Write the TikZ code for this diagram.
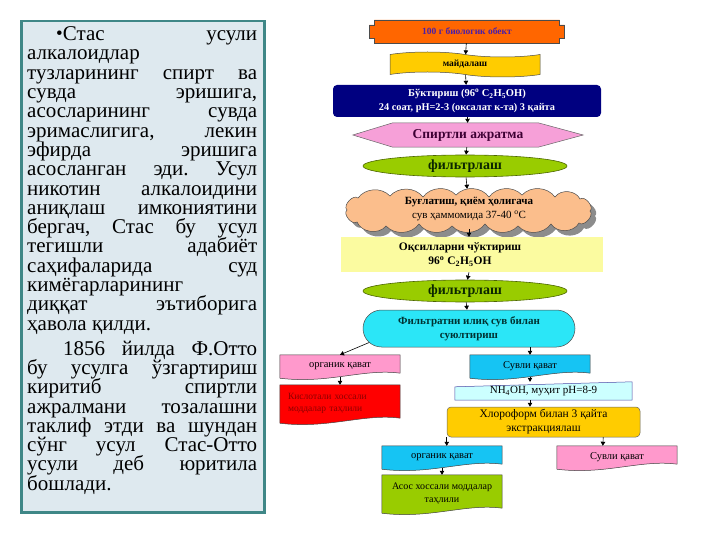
\documentclass[tikz,border=0pt]{standalone}
\usepackage{fontspec}
\setmainfont{Liberation Serif}
\usetikzlibrary{shapes.geometric,shapes.symbols,shapes.misc,shadows,calc,backgrounds,arrows.meta}
\definecolor{orangef}{HTML}{FF6600}
\definecolor{goldf}{HTML}{FFCC00}
\definecolor{navyf}{HTML}{000080}
\definecolor{hexpink}{HTML}{F6A0D8}
\definecolor{pinkf}{HTML}{FF99CC}
\definecolor{ygreen}{HTML}{99CC00}
\definecolor{dgreen}{HTML}{4D6600}
\definecolor{peach}{HTML}{FBBE8C}
\definecolor{lyellow}{HTML}{FBFBA0}
\definecolor{cyanf}{HTML}{2BE6F7}
\definecolor{bluef}{HTML}{16C4F3}
\definecolor{lcyan}{HTML}{CCFFFF}
\definecolor{redf}{HTML}{FF0000}
\definecolor{boxfill}{HTML}{DEE9EF}
\definecolor{boxborder}{HTML}{3F8787}
\definecolor{tpurple}{HTML}{4B1FA8}
\definecolor{tplum}{HTML}{3D0033}
\definecolor{tgreen}{HTML}{0B2600}
\definecolor{tteal}{HTML}{003333}
\definecolor{tred}{HTML}{8B0000}
\newcommand\mydoc[2]{\draw[fill=#2, draw=black!75, line width=0.5pt] (#1.north west) -- (#1.north east) -- ($(#1.south east)+(0,-4)$) .. controls ($(#1.south east)!0.3!(#1.south west)+(0,-9)$) and ($(#1.south east)!0.6!(#1.south west)+(0,7)$) .. ($(#1.south west)+(0,1)$) -- cycle;}
\newcommand\JL[1]{\hbox to 230pt{#1}}
\newcommand\cloudpath{(358,198) to[bend left=50] (390,196) to[bend left=50] (423,197) to[bend left=50] (456,195) to[bend left=50] (489,197) to[bend left=50] (522,195) to[bend left=50] (555,197) to[bend left=60] (580,199) to[bend left=90] (590,211) to[bend left=90] (579,223) to[bend left=60] (551,224) to[bend left=50] (518,226) to[bend left=50] (485,224) to[bend left=50] (452,226) to[bend left=50] (419,224) to[bend left=50] (386,226) to[bend left=60] (357,222) to[bend left=90] (347,210) to[bend left=90] (358,198) -- cycle}
\begin{document}
\begin{tikzpicture}[x=1pt,y=-1pt,
  every node/.style={inner sep=0pt, align=center},
  arr/.style={-{Triangle[length=4pt,width=4.5pt]}, line width=0.6pt, black},
  docbox/.style={minimum width=120pt, minimum height=22pt, font=\fontsize{10.5}{12}\selectfont},
  ellbox/.style={ellipse, fill=ygreen, draw=dgreen, line width=0.6pt, minimum width=204pt, minimum height=22pt, font=\bfseries\fontsize{14}{16}\selectfont, text=tgreen}]
\useasboundingbox (0,0) rectangle (720,540);

% left text box
\node[draw=boxborder, line width=2.5pt, fill=boxfill, minimum width=243pt, minimum height=491pt, anchor=north west] (box) at (20,20) {};
\node[anchor=north west, font=\fontsize{21}{19.3}\selectfont] (txt) at (27,26.5) {\vbox{\baselineskip=19.3pt\lineskiplimit=-100pt
\JL{\kern29pt{\fontsize{19}{19}\selectfont\raisebox{1pt}{•}}Стас\hfill усули}
\JL{алкалоидлар\hfill}
\JL{тузларининг\hfill спирт\hfill ва}
\JL{сувда\hfill эришига,}
\JL{асосларининг\hfill сувда}
\JL{эримаслигига,\hfill лекин}
\JL{эфирда\hfill эришига}
\JL{асосланган\hfill эди.\hfill Усул}
\JL{никотин\hfill алкалоидини}
\JL{аниқлаш\hfill имкониятини}
\JL{бергач,\hfill Стас\hfill бу\hfill усул}
\JL{тегишли\hfill адабиёт}
\JL{саҳифаларида\hfill суд}
\JL{кимёгарларининг\hfill}
\JL{диққат\hfill эътиборига}
\JL{ҳавола қилди.\hfill}
\vskip5.7pt
\JL{\kern36pt 1856\hfill йилда\hfill Ф.Отто}
\JL{бу\hfill усулга\hfill ўзгартириш}
\JL{киритиб\hfill спиртли}
\JL{ажралмани\hfill тозалашни}
\JL{таклиф\hfill этди\hfill ва\hfill шундан}
\JL{сўнг\hfill усул\hfill Стас-Отто}
\JL{усули\hfill деб\hfill юритила}
\JL{бошлади.\hfill}}};

% main column
\node[minimum width=195pt, minimum height=23pt, text=tpurple, font=\bfseries\fontsize{9.5}{11}\selectfont] (n1) at (467,31.5) {100 г биологик обект};
\node[tape, tape bend top=out and in, tape bend bottom=out and in, tape bend height=5pt, fill=goldf, draw=black!70, line width=0.5pt, minimum width=150pt, minimum height=25pt, font=\bfseries\fontsize{9.5}{11}\selectfont] (n2) at (465,64.5) {майдалаш};
\node[fill=navyf, rounded corners=4pt, minimum width=268pt, minimum height=32pt, text=white, font=\bfseries\fontsize{10.5}{14}\selectfont] (n3) at (467,101) {Бўктириш (96\textsuperscript{o} C\textsubscript{2}H\textsubscript{5}OH)\\{\fontsize{10.3}{12}\selectfont 24 соат, pH=2-3 (оксалат к-та) 3 қайта}};
\node[minimum width=230pt, minimum height=24pt, font=\bfseries\fontsize{13.5}{15}\selectfont, text=tplum] (n4) at (468,135) {Спиртли ажратма};
\node[ellbox] (n5) at (465,166) {фильтрлаш};
\node[minimum width=248pt, minimum height=40pt] (n6) at (469,209) {};
\node[font=\fontsize{11}{13.5}\selectfont] (n6t) at (n6) {\textbf{Буғлатиш, қиём ҳолигача}\\сув ҳаммомида 37-40 \textsuperscript{o}C};
\node[fill=lyellow, minimum width=262pt, minimum height=35pt] (n7) at (472,254.5) {};
\node[font=\bfseries\fontsize{11.5}{14}\selectfont] (n7t) at (460,254.5) {Оқсилларни чўктириш\\96\textsuperscript{o} C\textsubscript{2}H\textsubscript{5}OH};
\node[ellbox] (n8) at (465,291) {фильтрлаш};
\node[rounded rectangle, fill=cyanf, draw=black!70, line width=0.5pt, minimum width=212pt, minimum height=37pt, font=\bfseries\fontsize{11}{13.5}\selectfont, text=tteal] (n9) at (469,328.5) {Фильтратни илиқ сув билан\\суюлтириш};

% branches
\node[docbox] (l1) at (340,366) {органик қават};
\node[docbox, minimum height=37pt, text width=104pt, align=left, text=tred, font=\fontsize{9.5}{12}\selectfont] (l2) at (340,403.5) {Кислотали хоссали\\моддалар таҳлили};
\node[docbox] (r1) at (530,366) {Сувли қават};
\node[minimum width=177pt, minimum height=18pt, font=\fontsize{11}{12}\selectfont] (r2) at (543.5,391) {NH\textsubscript{4}OH, муҳит pH=8-9};
\node[fill=goldf, draw=black!60, line width=0.5pt, rounded corners=4pt, minimum width=193pt, minimum height=30pt, font=\fontsize{11.5}{14}\selectfont] (r3) at (543.5,422) {Хлороформ билан 3 қайта\\экстракциялаш};
\node[docbox] (r4) at (442,457) {органик қават};
\node[docbox] (r5) at (617,457) {Сувли қават};
\node[docbox, minimum height=37pt, font=\fontsize{10}{12.5}\selectfont] (r6) at (442,493.5) {Асос хоссали моддалар\\таҳлили};

\begin{pgfonlayer}{background}
\draw[fill=orangef, draw=black!70, line width=0.5pt]
  ($(n1.north west)+(5,0)$) -- ($(n1.north east)+(-5,0)$) -- ($(n1.north east)+(-5,5)$) -- ($(n1.north east)+(0,5)$)
  -- ($(n1.south east)+(0,-5)$) -- ($(n1.south east)+(-5,-5)$) -- ($(n1.south east)+(-5,0)$)
  -- ($(n1.south west)+(5,0)$) -- ($(n1.south west)+(5,-5)$) -- ($(n1.south west)+(0,-5)$)
  -- ($(n1.north west)+(0,5)$) -- ($(n1.north west)+(5,5)$) -- cycle;
\draw[fill=hexpink, draw=black!60, line width=0.5pt]
  (n4.west) -- ($(n4.north west)+(40,0)$) -- ($(n4.north east)+(-45,0)$) -- (n4.east)
  -- ($(n4.south east)+(-45,0)$) -- ($(n4.south west)+(40,0)$) -- cycle;
\fill[black!45, shift={(5,5)}] \cloudpath;
\draw[fill=peach, draw=black!70, line width=0.5pt] \cloudpath;
\mydoc{l1}{pinkf}
\mydoc{l2}{redf}
\mydoc{r1}{bluef}
\mydoc{r4}{bluef}
\mydoc{r5}{pinkf}
\mydoc{r6}{ygreen}
\draw[fill=lcyan, draw=navyf!70, line width=0.5pt]
  ($(r2.north west)+(0,5)$) -- (r2.north east) -- (r2.south east) -- (r2.south west) -- cycle;
\end{pgfonlayer}

% connectors
\draw[arr] (n1) -- (n2);
\draw[arr] (n2) -- (n3);
\draw[arr] (n3) -- (n4);
\draw[arr] (n4) -- (n5);
\draw[arr] (n5) -- (n6);
\draw[arr] (n6) -- (n6 |- n7.north);
\draw[arr] (n6 |- n7.south) -- (n8);
\draw[arr] (n8) -- (n9);
\draw[arr] (n9.188) -- (l1.north);
\draw[arr] (l1.south) -- (l2.north);
\draw[arr] (n9.south -| r1.north) -- (r1.north);
\draw[arr] (r1.south) -- (r1.south |- r2.north);
\draw[arr] (r2.south -| r1.south) -- (r3.north -| r1.south);
\draw[arr] (r3.south west) -- (r3.south west |- r4.north);
\draw[arr] ($(r3.south east)+(-37,0)$) -- ($(r5.north west)+(46,0)$);
\draw[arr] (r4.south) -- (r6.north);
\end{tikzpicture}
\end{document}
